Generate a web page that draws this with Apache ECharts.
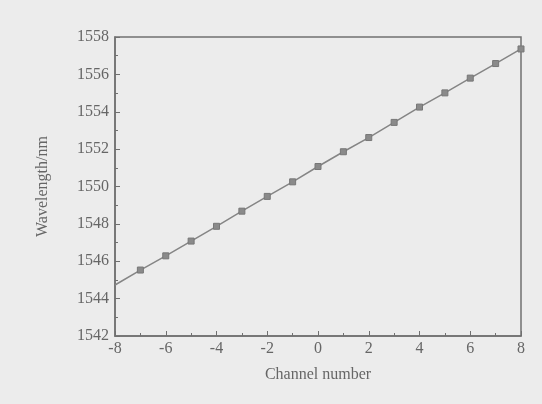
<!DOCTYPE html>
<html><head><meta charset="utf-8">
<script src="https://cdn.jsdelivr.net/npm/echarts@6/dist/echarts.min.js"></script>
<style>html,body{margin:0;padding:0;background:#ececec;}#c{width:542px;height:404px;}</style>
</head><body><div id="c"></div>
<script>
const channels = [-8,-7,-6,-5,-4,-3,-2,-1,0,1,2,3,4,5,6,7,8];
const wavelengths = [1544.73,1545.53,1546.29,1547.08,1547.87,1548.68,1549.47,1550.25,1551.07,1551.86,1552.62,1553.43,1554.25,1555.01,1555.80,1556.58,1557.36];
const xTicks = [-8,-6,-4,-2,0,2,4,6,8];
const yTicks = [1542,1544,1546,1548,1550,1552,1554,1556,1558];

const font = '"Liberation Serif", "DejaVu Serif", serif';
const axisColor = '#707070';
const data = channels.map((c,i)=>{
  const item = {value:[c, wavelengths[i]]};
  if (i===0) item.symbol = 'none';
  return item;
});
const chart = echarts.init(document.getElementById('c'));
chart.setOption({
  backgroundColor:'#ececec',
  animation:false,
  grid:{left:115,right:21,top:37,bottom:68,show:true,borderColor:axisColor,borderWidth:1.5,backgroundColor:'transparent'},
  xAxis:{type:'value',min:xTicks[0],max:xTicks[xTicks.length-1],interval:2,
    name:'Channel number',nameLocation:'middle',nameGap:31,
    nameTextStyle:{fontFamily:font,fontSize:16,color:'#666'},
    axisLine:{onZero:false,lineStyle:{color:axisColor,width:1.5}},
    axisTick:{inside:true,length:5,lineStyle:{color:axisColor}},
    minorTick:{show:true,splitNumber:2,length:3,lineStyle:{color:axisColor}},
    axisLabel:{fontFamily:font,fontSize:16,color:'#666',margin:5,formatter:v=>String(v)},
    splitLine:{show:false}},
  yAxis:{type:'value',min:yTicks[0],max:yTicks[yTicks.length-1],interval:2,
    name:'Wavelength/nm',nameLocation:'middle',nameGap:64,
    nameTextStyle:{fontFamily:font,fontSize:16,color:'#666'},
    axisLine:{onZero:false,lineStyle:{color:axisColor,width:1.5}},
    axisTick:{inside:true,length:5,lineStyle:{color:axisColor}},
    minorTick:{show:true,splitNumber:2,length:3,lineStyle:{color:axisColor}},
    axisLabel:{fontFamily:font,fontSize:16,color:'#666',margin:6,formatter:v=>String(v)},
    splitLine:{show:false}},
  series:[{type:'line',data:data,symbol:'rect',symbolSize:6,
    lineStyle:{color:'#858585',width:1.5},
    itemStyle:{color:'#8a8a8a',borderColor:'#777',borderWidth:1}}]
});
</script></body></html>
